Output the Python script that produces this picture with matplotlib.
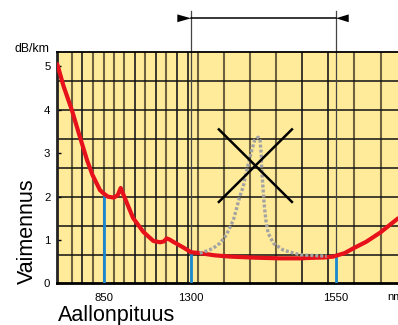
import matplotlib.pyplot as plt
import numpy as np

plt.rcParams['font.family'] = ['Liberation Sans', 'DejaVu Sans']

# kuidun vaimennus (dB/km) aallonpituuden funktiona
RED_WL = [608, 640, 683, 720, 762, 790, 829, 846, 870, 900, 920, 936, 950, 975,
          1000, 1053, 1105, 1140, 1160, 1174, 1190, 1208, 1260, 1300, 1315, 1340,
          1367, 1410, 1453, 1488, 1505, 1530, 1545, 1565, 1580, 1602, 1626, 1657]
RED_LOSS = [5.05, 4.55, 4.0, 3.45, 2.84, 2.5, 2.15, 2.08, 2.0, 1.98, 2.03, 2.2, 2.05, 1.78,
            1.51, 1.19, 0.98, 0.95, 0.97, 1.04, 1.01, 0.96, 0.83, 0.72, 0.70, 0.65,
            0.62, 0.595, 0.58, 0.58, 0.59, 0.60, 0.62, 0.70, 0.81, 0.96, 1.17, 1.50]

# vesipiikki (OH), katkoviiva
WATER_WL = [1315, 1327, 1338, 1350, 1361, 1373, 1384, 1390, 1396, 1405, 1410, 1416,
            1419, 1421, 1422, 1424, 1426, 1429, 1433, 1442, 1459, 1488, 1534]
WATER_LOSS = [0.70, 0.75, 0.81, 0.93, 1.12, 1.46, 2.0, 2.23, 2.61, 3.08, 3.31, 3.37,
              3.3, 3.0, 2.61, 2.23, 1.85, 1.46, 1.16, 0.93, 0.77, 0.66, 0.63]

# merkityt aallonpituudet
MARK_WL = [850, 1300, 1550]
MARK_LOSS = [2.08, 0.70, 0.63]
WINDOW = (1300, 1550)

# ruudukko
VGRID_DARK = [738, 1010, 1119, 1228, 1282, 1491, 1536]
VGRID_BROWN = [683, 792, 850, 900, 955, 1064, 1172, 1312, 1357, 1402, 1447, 1581, 1627]
HGRID = [2 / 3 * k for k in range(1, 8)]

# risti vesipiikin yli
CROSS_WL = [1348, 1474]
CROSS_LOSS = [3.55, 1.88]


def fwd(w):
    w = np.asarray(w, float)
    return np.where(w < 1300, 1300 - (1300 - w) / 3, w)


def inv(u):
    u = np.asarray(u, float)
    return np.where(u < 1300, 1300 - (1300 - u) * 3, u)


fig = plt.figure(figsize=(3.98, 3.25), dpi=100)
ax = fig.add_axes([0.144, 0.1277, 0.856, 0.7123])
ax.set_facecolor('#ffeb9a')
ax.set_xscale('function', functions=(fwd, inv))
ax.set_xlim(608, 1657)
ax.set_ylim(0, 16 / 3)

for w in VGRID_BROWN:
    ax.axvline(w, color='#6e6140', lw=1.5, zorder=1)
for w in VGRID_DARK:
    ax.axvline(w, color='#1a1a1a', lw=1.2, zorder=1)
for h in HGRID:
    ax.axhline(h, color='#111111', lw=1.1, zorder=1)

# sinisia pystyviivoja
ax.vlines(MARK_WL, 0, MARK_LOSS, color='#1a88d0', lw=2, zorder=3)

ax.plot(RED_WL, RED_LOSS, color='#e6111b', lw=3, zorder=4, solid_capstyle='round')
ax.plot(WATER_WL, WATER_LOSS, color='#a3a3a3', lw=2.4, ls=(0, (0.9, 0.6)), zorder=5)

ax.plot(CROSS_WL, CROSS_LOSS, color='black', lw=1.8, zorder=6)
ax.plot(CROSS_WL, CROSS_LOSS[::-1], color='black', lw=1.8, zorder=6)

# ikkuna nuolineen
y_top, y_arr = 6.28, 6.11
for w in WINDOW:
    ax.plot([w, w], [0, y_top], color='#444444', lw=0.9, clip_on=False, zorder=2)
ax.plot(WINDOW, [y_arr, y_arr], color='black', lw=1.1, clip_on=False)
ax.fill([1229, WINDOW[0], 1229], [y_arr - 0.09, y_arr, y_arr + 0.09],
        color='black', clip_on=False, lw=0)
ax.fill([1572, WINDOW[1], 1572], [y_arr - 0.09, y_arr, y_arr + 0.09],
        color='black', clip_on=False, lw=0)

ax.set_yticks(range(6))
ax.tick_params(axis='y', direction='in', length=3, width=1, labelsize=8.2, pad=5)
ax.set_xticks(MARK_WL)
ax.set_xticklabels([str(w) for w in MARK_WL])
ax.tick_params(axis='x', length=0, labelsize=8.2, pad=7)
ax.minorticks_off()

ax.spines['right'].set_visible(False)
ax.spines['left'].set_linewidth(2)
ax.spines['bottom'].set_linewidth(2)
ax.spines['top'].set_linewidth(1.3)
ax.spines['left'].set_color('#222222')

fig.text(387 / 398, 1 - 297 / 325, 'nm', fontsize=8.2, ha='left', va='center')
fig.text(50 / 398, 1 - 52.5 / 325, 'dB/km', fontsize=8.8, ha='right', va='baseline')
fig.text(33 / 398, 1 - 284 / 325, 'Vaimennus', fontsize=15.5, rotation=90,
         rotation_mode='anchor', ha='left', va='baseline')
fig.text(58 / 398, 1 - 320.5 / 325, 'Aallonpituus', fontsize=15.5, ha='left', va='baseline')

plt.savefig('out.png', dpi=100)
